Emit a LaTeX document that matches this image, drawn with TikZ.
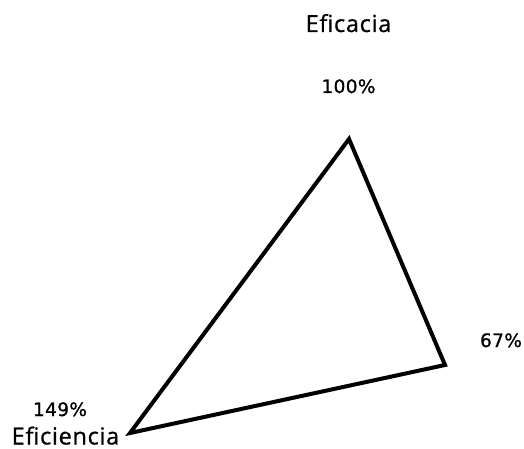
\documentclass[tikz,border=0pt]{standalone}
\usepackage{fontspec}
\setmainfont{Open Sans}
\newfontfamily\lblfont[LetterSpace=3,FakeBold=0.8]{Open Sans}
\newfontfamily\pctfont[LetterSpace=2,FakeBold=1]{DejaVu Sans}
\begin{document}
\begin{tikzpicture}[x=1pt,y=-1pt,
  lbl/.style={anchor=base,inner sep=0pt,text depth=0pt,font=\lblfont\fontsize{23.5}{26}\selectfont},
  pct/.style={anchor=base,inner sep=0pt,text depth=0pt,font=\pctfont\fontsize{18.5}{22}\selectfont},
  tri/.style={line width=4pt,line join=miter}]
\useasboundingbox (0,0) rectangle (524,449);
\coordinate (top) at (349,139);
\coordinate (right) at (445,365);
\coordinate (left) at (130,433);
\draw[tri] (top) -- (right) -- (left) -- cycle;
\node[lbl] (eficacia) at (348.5,32) {Eficacia};
\node[pct] (p100) at (348.5,93) {100\%};
\node[pct] (p67) at (501,347) {67\%};
\node[pct] (p149) at (60,416) {149\%};
\node[lbl] (eficiencia) at (65.5,444.5) {Eficiencia};
\end{tikzpicture}
\end{document}
